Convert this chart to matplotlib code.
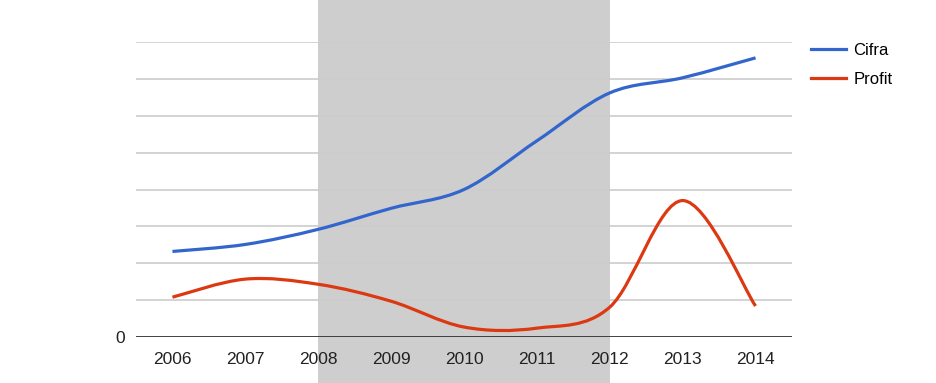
import matplotlib
matplotlib.use('Agg')
import numpy as np
import matplotlib.pyplot as plt
from matplotlib.path import Path
from matplotlib.patches import PathPatch, Rectangle
from matplotlib.lines import Line2D
import matplotlib.transforms as mtransforms

plt.rcParams['font.family'] = ['Liberation Sans', 'DejaVu Sans']

years = [2006, 2007, 2008, 2009, 2010, 2011, 2012, 2013, 2014]
cifra = [2.32, 2.51, 2.92, 3.49, 4.0, 5.32, 6.62, 7.03, 7.57]
profit = [1.08, 1.57, 1.43, 0.97, 0.27, 0.24, 0.81, 3.70, 0.84]
band = (2008, 2012)

blue = '#3366CC'
red = '#DC3912'


def smooth_path(x, y):
    # catmull-rom style bezier through the data points
    x = np.asarray(x, float)
    y = np.asarray(y, float)
    n = len(x)
    verts = [(x[0], y[0])]
    codes = [Path.MOVETO]
    for i in range(n - 1):
        x0, y0 = (x[i - 1], y[i - 1]) if i > 0 else (x[i], y[i])
        x3, y3 = (x[i + 2], y[i + 2]) if i + 2 < n else (x[i + 1], y[i + 1])
        c1 = (x[i] + (x[i + 1] - x0) / 6, y[i] + (y[i + 1] - y0) / 6)
        c2 = (x[i + 1] - (x3 - x[i]) / 6, y[i + 1] - (y3 - y[i]) / 6)
        verts += [c1, c2, (x[i + 1], y[i + 1])]
        codes += [Path.CURVE4] * 3
    return Path(verts, codes)


fig = plt.figure(figsize=(9.36, 3.83), dpi=100)
ax = fig.add_axes([136 / 936, 46 / 383, 656 / 936, 295 / 383])
ax.set_xlim(2005.5, 2014.5)
ax.set_ylim(0, 8)

# shaded period, full figure height
trans = mtransforms.blended_transform_factory(ax.transData, fig.transFigure)
ax.add_patch(Rectangle((band[0], 0), band[1] - band[0], 1, transform=trans,
                       facecolor='#CECECE', edgecolor='none', zorder=0.5, clip_on=False))

for v in range(1, 9):
    ax.axhline(v, color='#CCCCCC', lw=1.2, zorder=1)
ax.axhline(0, color='#333333', lw=1.3, zorder=3)

for vals, c in [(cifra, blue), (profit, red)]:
    ax.add_patch(PathPatch(smooth_path(years, vals), facecolor='none', edgecolor=c,
                           lw=2.3, capstyle='butt', zorder=4))

for s in ax.spines.values():
    s.set_visible(False)
ax.set_xticks(years)
ax.set_xticklabels([str(y) for y in years], fontsize=12.5, color='#222222')
ax.set_yticks([0])
ax.set_yticklabels(['0'], fontsize=12.5, color='#222222')
ax.tick_params(length=0)
ax.tick_params(axis='x', pad=11)
ax.tick_params(axis='y', pad=8)

handles = [Line2D([], [], color=blue, lw=2.3), Line2D([], [], color=red, lw=2.3)]
fig.legend(handles, ['Cifra', 'Profit'], loc='upper left', bbox_to_anchor=(804 / 936, 1 - 36 / 383),
           frameon=False, fontsize=12, handlelength=2.1, handletextpad=0.45,
           labelspacing=0.85, borderaxespad=0)

plt.savefig('out.png', dpi=100)
